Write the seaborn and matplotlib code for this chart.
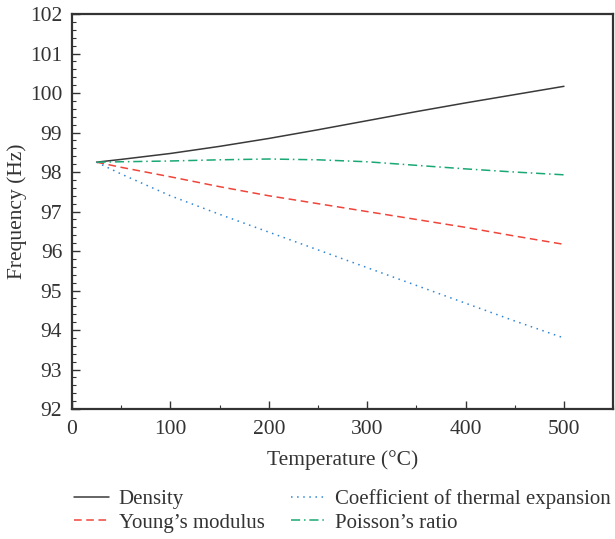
import numpy as np
import pandas as pd
import matplotlib
matplotlib.use("Agg")
import matplotlib.pyplot as plt
from matplotlib.ticker import MultipleLocator
import seaborn as sns

# temperature points
temperature = [25, 50, 100, 150, 200, 250, 300, 350, 400, 450, 500]

density = [98.25, 98.32, 98.47, 98.65, 98.85, 99.07, 99.30, 99.53, 99.75, 99.96, 100.17]
youngs_modulus = [98.25, 98.12, 97.88, 97.63, 97.40, 97.20, 97.00, 96.80, 96.60, 96.38, 96.17]
thermal_expansion = [98.25, 97.95, 97.40, 96.93, 96.48, 96.03, 95.58, 95.13, 94.68, 94.23, 93.80]
poisson_ratio = [98.25, 98.26, 98.28, 98.31, 98.33, 98.31, 98.26, 98.17, 98.08, 98.00, 97.93]

labels = ["Density", "Young\u2019s modulus", "Coefficient of thermal expansion", "Poisson\u2019s ratio"]
colors = ["#3a3a3a", "#f0453a", "#2f86d6", "#1aa874"]
styles = ["-", (0, (5, 3)), (0, (1, 3)), (0, (6, 2.5, 1, 2.5))]

df = pd.DataFrame({"Temperature": temperature, labels[0]: density, labels[1]: youngs_modulus,
                   labels[2]: thermal_expansion, labels[3]: poisson_ratio})
long = df.melt(id_vars="Temperature", var_name="Property", value_name="Frequency")

sns.set_style("ticks")
plt.rcParams['font.family'] = ['Liberation Serif', 'DejaVu Serif']

fig, ax = plt.subplots(figsize=(6.15, 5.39), dpi=100)
fig.subplots_adjust(left=0.117, right=0.997, top=0.974, bottom=0.241)

for lab, col, ls in zip(labels, colors, styles):
    sub = long[long["Property"] == lab]
    sns.lineplot(data=sub, x="Temperature", y="Frequency", ax=ax, color=col,
                 linestyle=ls, linewidth=1.1, label=lab)

ax.set_xlim(0, 550)
ax.set_ylim(92, 102)
ax.set_xticks([0, 100, 200, 300, 400, 500])
ax.set_yticks(range(92, 103))
ax.xaxis.set_minor_locator(MultipleLocator(50))
ax.yaxis.set_minor_locator(MultipleLocator(0.2))
ax.tick_params(axis="both", which="both", direction="in", top=False, right=False,
               labelsize=15.5, colors="#333333")
ax.tick_params(which="major", length=6, width=1)
ax.tick_params(which="minor", length=3, width=0.8)
ax.tick_params(axis="x", which="major", pad=8)
ax.tick_params(axis="y", which="major", pad=7)
for s in ax.spines.values():
    s.set_linewidth(1.6)
    s.set_color("#333333")

ax.set_xlabel("Temperature (\u00b0C)", fontsize=15.5, color="#333333", labelpad=8)
ax.set_ylabel("Frequency (Hz)", fontsize=15.5, color="#333333", labelpad=2)

handles, labs = ax.get_legend_handles_labels()
ax.legend(handles, labs, ncol=2,
          loc="upper center", bbox_to_anchor=(0.5, -0.155), frameon=False,
          fontsize=15, handlelength=1.7, columnspacing=1.25, labelspacing=0.2,
          handletextpad=0.45, labelcolor="#333333")

fig.savefig("out.png", dpi=100)
